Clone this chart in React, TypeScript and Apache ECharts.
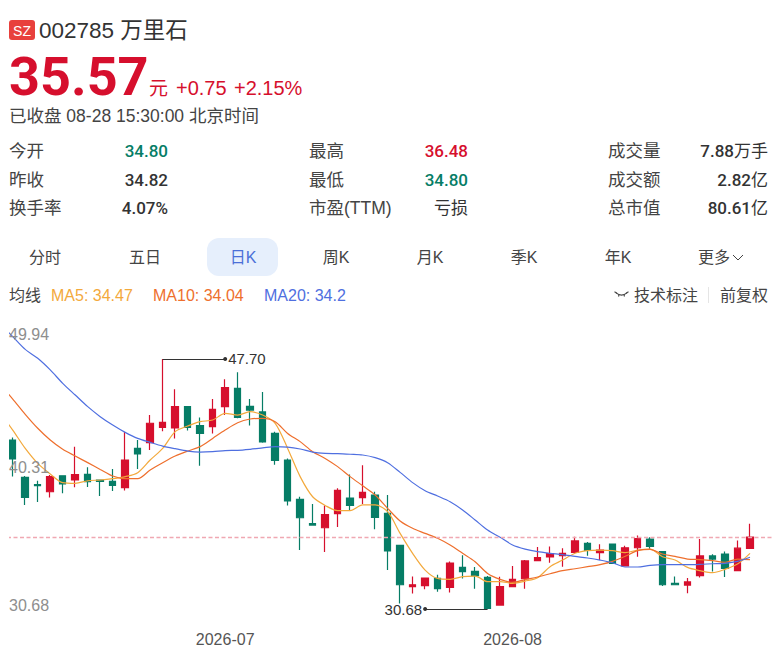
import React, { useEffect, useRef } from "react";
import * as echarts from "echarts";

// Trading days. The first entry lies just left of the visible window and the last two are blank room on the right.
const categories = [
  "2026-06-04",
  "2026-06-05", "2026-06-08", "2026-06-09", "2026-06-10", "2026-06-11", "2026-06-12",
  "2026-06-15", "2026-06-16", "2026-06-17", "2026-06-18", "2026-06-22", "2026-06-23",
  "2026-06-24", "2026-06-25", "2026-06-26", "2026-06-29", "2026-06-30",
  "2026-07-01", "2026-07-02", "2026-07-03", "2026-07-06", "2026-07-07", "2026-07-08", "2026-07-09", "2026-07-10",
  "2026-07-13", "2026-07-14", "2026-07-15", "2026-07-16", "2026-07-17",
  "2026-07-20", "2026-07-21", "2026-07-22", "2026-07-23", "2026-07-24",
  "2026-07-27", "2026-07-28", "2026-07-29", "2026-07-30", "2026-07-31",
  "2026-08-03", "2026-08-04", "2026-08-05", "2026-08-06", "2026-08-07",
  "2026-08-10", "2026-08-11", "2026-08-12", "2026-08-13", "2026-08-14",
  "2026-08-17", "2026-08-18", "2026-08-19", "2026-08-20", "2026-08-21",
  "2026-08-24", "2026-08-25", "2026-08-26", "2026-08-27", "2026-08-28",
  "2026-08-31", "2026-09-01",
];
const monthTicks = ["2026-07-01", "2026-08-03"];

const opens = [
  42.18, 39.64, 39.14, 38.66, 39.75, 39.46, 39.84, 39.46, 39.37, 38.94,
  41.61, 42.00, 43.04, 43.00, 44.45, 43.16, 43.09, 44.45, 45.70, 44.47,
  44.09, 42.63, 40.82, 38.14, 36.49, 36.21, 37.17, 38.23, 38.26, 38.44,
  37.19, 35.01, 32.20, 32.27, 32.76, 32.15, 33.51, 33.24, 32.83, 30.95,
  32.20, 32.74, 33.97, 34.22, 34.31, 34.54, 35.15, 34.51, 35.10, 33.61,
  34.85, 35.44, 34.58, 32.43, 32.31, 32.95, 34.29, 34.42, 33.29, 34.80,
];
const closes = [
  40.89, 38.28, 39.07, 39.69, 39.19, 39.82, 39.34, 39.37, 39.10, 40.82,
  41.23, 43.32, 43.38, 44.45, 43.04, 42.63, 44.27, 45.74, 43.72, 44.22,
  42.05, 40.80, 38.03, 36.89, 36.39, 37.10, 38.75, 37.73, 38.62, 36.92,
  34.63, 32.33, 32.33, 32.79, 32.06, 33.81, 33.22, 32.95, 30.72, 32.20,
  32.70, 33.95, 34.17, 34.45, 34.47, 35.31, 34.67, 34.69, 33.79, 34.85,
  35.47, 34.94, 32.33, 32.33, 32.52, 34.29, 34.08, 33.45, 34.82, 35.57,
];
const lows = [
  39.69, 37.76, 37.96, 38.26, 38.55, 38.96, 38.98, 38.37, 38.71, 38.75,
  40.21, 41.50, 42.77, 42.29, 42.82, 40.43, 42.63, 43.88, 43.66, 43.16,
  42.00, 40.50, 37.73, 34.69, 36.35, 34.56, 36.26, 37.37, 37.82, 36.10,
  33.33, 31.06, 31.74, 32.02, 31.86, 31.81, 32.76, 32.06, 30.68, 30.93,
  32.18, 32.06, 33.95, 33.83, 33.56, 34.47, 34.31, 34.01, 33.74, 33.59,
  34.24, 34.74, 32.24, 32.31, 31.75, 32.83, 33.24, 32.86, 33.27, 34.80,
];
const highs = [
  42.36, 39.73, 39.41, 39.80, 39.78, 41.73, 40.32, 39.50, 40.21, 42.73,
  42.18, 43.88, 47.70, 45.63, 44.47, 43.72, 44.97, 46.31, 46.79, 44.97,
  45.45, 42.75, 40.93, 38.32, 37.82, 37.73, 38.89, 39.84, 40.46, 38.66,
  38.44, 35.03, 32.90, 32.83, 33.01, 33.92, 34.33, 33.54, 32.92, 32.88,
  33.61, 34.01, 34.90, 34.94, 34.81, 35.60, 35.24, 35.08, 35.12, 34.99,
  35.69, 35.56, 34.60, 32.90, 32.79, 35.44, 34.40, 34.60, 35.35, 36.48,
];

// Moving averages, starting one day before the first candle.
const ma5 = [
  44.02,
  42.86, 41.61, 40.59, 39.87, 39.28, 39.23, 39.41, 39.46, 39.55, 39.69,
  39.96, 40.82, 41.61, 42.75, 43.13, 43.43, 43.54, 44.00, 43.88, 44.11,
  43.88, 43.32, 41.61, 39.69, 38.32, 37.73, 37.37, 37.37, 37.76, 37.76,
  37.30, 35.83, 34.47, 33.33, 32.76, 32.70, 32.88, 32.92, 32.54, 32.54,
  32.43, 32.58, 32.81, 33.56, 34.01, 34.47, 34.65, 34.69, 34.65, 34.51,
  34.69, 34.76, 34.24, 34.01, 33.51, 33.29, 33.15, 33.38, 33.74, 34.47,
];
const ma10 = [
  45.95,
  44.97, 43.93, 42.98, 42.18, 41.55, 41.09, 40.64, 40.18, 39.73, 39.55,
  39.55, 40.14, 40.64, 41.09, 41.43, 41.73, 42.29, 42.86, 43.36, 43.61,
  43.66, 43.43, 42.63, 42.07, 41.39, 40.93, 40.37, 39.69, 39.07, 38.44,
  37.53, 36.67, 36.17, 35.83, 35.49, 35.03, 34.47, 33.90, 33.10, 32.70,
  32.49, 32.68, 32.86, 33.08, 33.29, 33.42, 33.56, 33.70, 33.92, 34.26,
  34.65, 34.74, 34.42, 34.26, 34.08, 34.04, 33.97, 33.86, 34.08, 34.04,
];
const ma20 = [
  50.08,
  49.22, 48.35, 47.74, 46.95, 46.04, 45.24, 44.45, 43.77, 43.20, 42.70,
  42.29, 42.02, 41.77, 41.59, 41.43, 41.36, 41.39, 41.46, 41.48, 41.55,
  41.64, 41.73, 41.70, 41.57, 41.36, 41.27, 41.25, 41.21, 41.16, 40.98,
  40.64, 39.98, 39.28, 38.73, 38.37, 37.98, 37.42, 36.74, 36.05, 35.56,
  35.04, 34.76, 34.58, 34.47, 34.38, 34.26, 34.15, 34.01, 33.83, 33.54,
  33.54, 33.65, 33.70, 33.70, 33.70, 33.72, 33.76, 33.79, 33.92, 34.20,
];

const axisTicks = [30.68, 40.31, 49.94];
const lastPrice = 35.57;
const highestDay = "2026-06-24";
const highestPrice = 47.7;
const highestLabelDay = "2026-07-01";
const lowestDay = "2026-07-30";
const lowestPrice = 30.68;
const lowestLabelDay = "2026-07-23";

const RED = "#d60f2d";
const GREEN = "#067d66";
const YELLOW = "#f3a93c";
const ORANGE = "#ee6f2d";
const BLUE = "#4f6fe0";
const SANS = '"Liberation Sans","Noto Sans CJK SC",sans-serif';
const ROBOTO = 'Roboto,"Noto Sans CJK SC",sans-serif';

type Opt = { align?: string; weight?: number | string; family?: string };
const txt = (text: string, x: number, y: number, size: number, fill: string, o: Opt = {}, rich?: any) => ({
  type: "text",
  x,
  y,
  silent: true,
  z: 20,
  style: {
    text,
    fill,
    fontSize: size,
    fontWeight: o.weight ?? 400,
    fontFamily: o.family ?? SANS,
    align: o.align ?? "left",
    verticalAlign: "middle",
    textAlign: o.align ?? "left",
    textVerticalAlign: "middle",
    ...(rich ? { rich } : {}),
  },
});

const LABEL = "#444444";
const VALUE = "#333333";
// label, number part, unit part, colour, label x, value right edge
const statRows: [string, string, string, string, number, number][] = [
  ["今开", "34.80", "", GREEN, 9, 168],
  ["昨收", "34.82", "", VALUE, 9, 168],
  ["换手率", "4.07%", "", VALUE, 9, 168],
  ["最高", "36.48", "", RED, 309, 468],
  ["最低", "34.80", "", GREEN, 309, 468],
  ["市盈(TTM)", "", "亏损", VALUE, 309, 468],
  ["成交量", "7.88", "万手", VALUE, 608, 768],
  ["成交额", "2.82", "亿", VALUE, 608, 768],
  ["总市值", "80.61", "亿", VALUE, 608, 768],
];
const rowY = [151, 180, 208];
const tabs: [string, number][] = [
  ["分时", 45], ["五日", 145], ["日K", 243], ["周K", 336], ["月K", 430], ["季K", 524], ["年K", 618],
];

function headerGraphics(): any[] {
  const ink = { stroke: "#444444", lineWidth: 1.1 };
  const g: any[] = [
    { type: "rect", silent: true, z: 15, shape: { x: 0, y: 320, width: 9, height: 300 }, style: { fill: "#ffffff" } },
    { type: "rect", silent: true, z: 19, shape: { x: 9, y: 20, width: 26, height: 20, r: 3 }, style: { fill: "#e8403c" } },
    txt("SZ", 22, 30.5, 14, "#ffffff", { align: "center" }),
    txt("002785 万里石", 39, 30, 22.5, "#333333"),
    txt("35.57", 9, 76, 54, RED, { weight: 700, family: ROBOTO }),
    txt("元", 149, 88, 19, RED),
    txt("+0.75", 176, 88, 20, RED),
    txt("+2.15%", 234, 88, 20, RED),
    txt("已收盘 08-28 15:30:00 北京时间", 9, 116, 17.5, "#444444"),
    { type: "rect", silent: true, z: 19, shape: { x: 207, y: 238, width: 71, height: 38, r: 12 }, style: { fill: "#e6effc" } },
    txt("更多", 698, 257, 16, "#444444"),
    { type: "polyline", silent: true, z: 20, shape: { points: [[733, 255], [738, 260], [743, 255]] }, style: { stroke: "#444444", lineWidth: 1, fill: "none" } },
    txt("均线", 9, 295, 16, "#444444"),
    txt("MA5: 34.47", 51, 295, 16, YELLOW),
    txt("MA10: 34.04", 153, 295, 16, ORANGE),
    txt("MA20: 34.2", 264, 295, 16, BLUE),
    { type: "bezierCurve", silent: true, z: 20, shape: { x1: 616, y1: 292.8, x2: 627, y2: 292.8, cpx1: 621.5, cpy1: 297.4 }, style: { ...ink, fill: "none" } },
    { type: "line", silent: true, z: 20, shape: { x1: 614.5, y1: 291.8, x2: 617, y2: 293.2 }, style: ink },
    { type: "line", silent: true, z: 20, shape: { x1: 628.5, y1: 291.8, x2: 626, y2: 293.2 }, style: ink },
    { type: "line", silent: true, z: 20, shape: { x1: 619, y1: 294.6, x2: 618.5, y2: 296.5 }, style: ink },
    { type: "line", silent: true, z: 20, shape: { x1: 624, y1: 294.6, x2: 624.5, y2: 296.5 }, style: ink },
    txt("技术标注", 634, 295, 16, "#444444"),
    { type: "line", silent: true, z: 20, shape: { x1: 708.5, y1: 287, x2: 708.5, y2: 303 }, style: { stroke: "#e5e5e5", lineWidth: 1 } },
    txt("前复权", 720, 295, 16, "#444444"),
  ];
  statRows.forEach(([k, num, unit, color, lx, rx], i) => {
    const y = rowY[i % 3];
    g.push(txt(k, lx, y, 17.5, LABEL));
    const n = num ? `{n|${num}}` : "";
    const u = unit ? `{u|${unit}}` : "";
    g.push(
      txt(n + u, rx, y, 17, color, { align: "right" }, {
        n: { fontFamily: ROBOTO, fontWeight: 500, fontSize: 17, fill: color },
        u: { fontFamily: SANS, fontWeight: 400, fontSize: 17, fill: color },
      }),
    );
  });
  tabs.forEach(([t, x]) => {
    g.push(txt(t, x, 257, 16, t === "日K" ? "#4b6fd8" : "#444444", { align: "center" }));
  });
  return g;
}

export default function App() {
  const ref = useRef<HTMLDivElement>(null);
  useEffect(() => {
    if (!ref.current) return;
    const chart = echarts.init(ref.current, undefined, { renderer: "svg" });
    const candle = opens.map((o, i) => [o, closes[i], lows[i], highs[i]]);
    const blank = ["-", "-", "-", "-"];
    const pad = (a: number[]) => [...a, null, null];
    const calloutLabel = (v: number) => ({
      show: true,
      position: "end",
      formatter: () => v.toFixed(2),
      color: "#333333",
      fontSize: 15,
      fontFamily: SANS,
      distance: 3,
    });
    chart.setOption({
      animation: false,
      backgroundColor: "#ffffff",
      textStyle: { fontFamily: SANS },
      graphic: { elements: headerGraphics() },
      grid: { left: -6, right: -9.25, top: 326, bottom: 54, containLabel: false, outerBoundsMode: "none" },
      xAxis: {
        type: "category",
        data: categories,
        boundaryGap: true,
        axisLine: { show: false },
        axisTick: { show: false },
        splitLine: { show: false },
        axisLabel: {
          interval: (_: number, v: string) => monthTicks.includes(v),
          formatter: (v: string) => v.slice(0, 7),
          color: "#555555",
          fontSize: 16,
          fontFamily: SANS,
          margin: 22,
        },
      },
      yAxis: {
        type: "value",
        min: 30.68,
        max: 49.94,
        z: 30,
        axisLine: { show: false },
        axisTick: { show: false },
        splitLine: { show: false },
        axisLabel: {
          inside: true,
          margin: 15,
          customValues: axisTicks,
          formatter: (v: number) => (v === axisTicks[0] ? `{low|${v.toFixed(2)}}` : v.toFixed(2)),
          rich: { low: { padding: [0, 0, 8, 0], color: "#8e8e8e", fontSize: 16, fontFamily: SANS } },
          color: "#8e8e8e",
          fontSize: 16,
          fontFamily: SANS,
          verticalAlignMaxLabel: "top",
          verticalAlignMinLabel: "middle",
        },
      },
      series: [
        {
          type: "candlestick",
          data: [blank, ...candle, blank, blank],
          barWidth: 7,
          itemStyle: { color: RED, color0: GREEN, borderColor: RED, borderColor0: GREEN, borderWidth: 1.2 },
          markLine: {
            silent: true,
            symbol: ["none", "circle"],
            symbolSize: 4,
            data: [
              [
                { coord: [highestDay, highestPrice], lineStyle: { color: "#333333", width: 1, type: "solid" }, itemStyle: { color: "#333333" }, label: calloutLabel(highestPrice) },
                { coord: [highestLabelDay, highestPrice], itemStyle: { color: "#333333" } },
              ],
              [
                { coord: [lowestDay, lowestPrice], lineStyle: { color: "#333333", width: 1, type: "solid" }, itemStyle: { color: "#333333" }, label: calloutLabel(lowestPrice) },
                { coord: [lowestLabelDay, lowestPrice], itemStyle: { color: "#333333" } },
              ],
            ],
          },
        },
        { name: "MA5", type: "line", data: pad(ma5), smooth: 0.3, showSymbol: false, lineStyle: { color: YELLOW, width: 1.2 }, itemStyle: { color: YELLOW } },
        { name: "MA10", type: "line", data: pad(ma10), smooth: 0.3, showSymbol: false, lineStyle: { color: ORANGE, width: 1.2 }, itemStyle: { color: ORANGE } },
        {
          name: "MA20",
          type: "line",
          data: pad(ma20),
          smooth: 0.3,
          showSymbol: false,
          lineStyle: { color: BLUE, width: 1.2 },
          itemStyle: { color: BLUE },
          markLine: {
            silent: true,
            symbol: ["none", "none"],
            label: { show: false },
            lineStyle: { color: "#f0a8b2", width: 1.4, type: [4, 2.5], opacity: 1 },
            data: [{ yAxis: lastPrice }],
          },
        },
      ],
    });
    return () => chart.dispose();
  }, []);
  return <div ref={ref} style={{ position: "absolute", left: 0, top: 0, width: 772, height: 663, background: "#fff" }} />;
}
